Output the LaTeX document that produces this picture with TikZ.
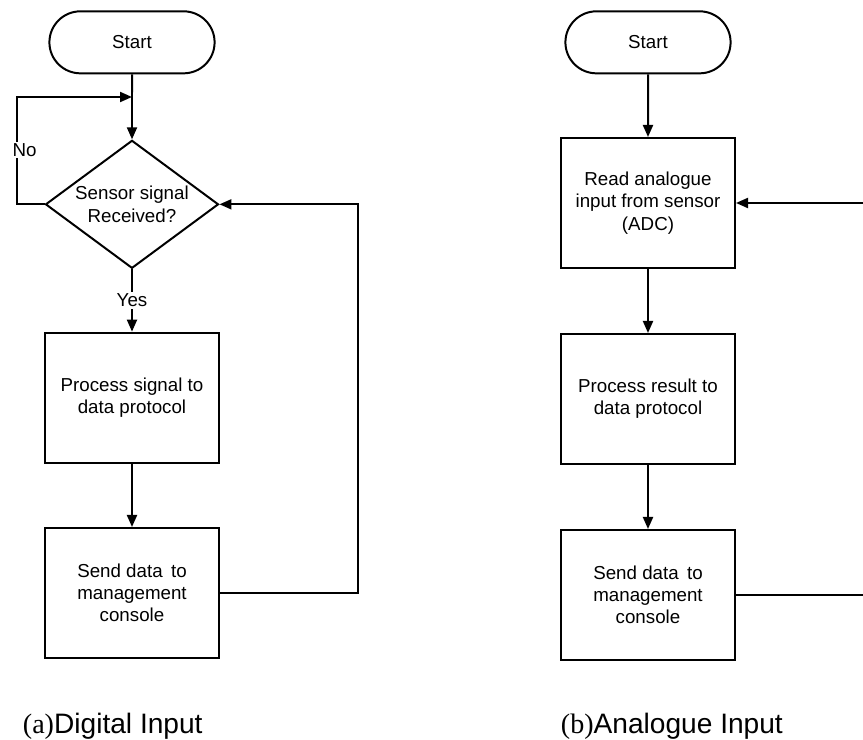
\documentclass[tikz,border=0pt]{standalone}
\usepackage{fontspec}
\setmainfont{Liberation Sans}
\newfontfamily\capserif{Liberation Serif}
\usetikzlibrary{arrows.meta, positioning, shapes.geometric, shapes.misc}

\begin{document}
\begin{tikzpicture}[
    line width=1.7pt,
    termbox/.style={draw, rounded rectangle, minimum width=5.19cm, minimum height=1.86cm, font=\fontsize{16}{19}\selectfont},
    stepbox/.style={draw, minimum width=5.22cm, minimum height=3.9cm, align=center, font=\fontsize{16}{19}\selectfont},
    decbox/.style={draw, diamond, aspect=1.35, inner sep=0pt, minimum width=5.19cm, minimum height=3.84cm, align=center, font=\fontsize{16}{19}\selectfont},
    lbl/.style={font=\fontsize{16}{19}\selectfont, fill=white, inner sep=1.5pt},
    captxt/.style={font=\fontsize{24}{28}\selectfont, anchor=base west},
    arr/.style={-{Triangle[length=3.6mm, width=3mm]}}
]
    \useasboundingbox (0,0) rectangle (25.89,-22.2);

    % (a) digital input
    \node[termbox] (start1) at (3.96,-1.27) {Start};
    \node[decbox, below=1.95cm of start1] (dia) {Sensor signal\\Received?};
    \node[stepbox, below=1.87cm of dia] (proc1) {Process signal to\\data protocol};
    \node[stepbox, below=1.9cm of proc1] (send1) {Send data\, to\\management\\console};

    \coordinate (nocorner) at (0.51,-2.91);
    \coordinate (backright) at (10.74,-2.91);

    \draw[arr] (start1) -- (dia);
    \draw[arr] (dia.west) -- (dia.west -| nocorner) -- (nocorner) -- (nocorner -| start1.south);
    \node[lbl] (no) at (0.74,-4.5) {No};
    \draw[arr] (dia) -- node[lbl] (yes) {Yes} (proc1);
    \draw[arr] (proc1) -- (send1);
    \draw[arr] (send1.east) -| (dia.east -| backright) -- (dia.east);

    % (b) analogue input
    \node[termbox] (start2) at (19.44,-1.27) {Start};
    \node[stepbox, below=1.88cm of start2] (read) {Read analogue\\input from sensor\\(ADC)};
    \node[stepbox, below=1.92cm of read] (proc2) {Process result to\\data protocol};
    \node[stepbox, below=1.92cm of proc2] (send2) {Send data\, to\\management\\console};

    \coordinate (edge) at (25.89,-2.91);

    \draw[arr] (start2) -- (read);
    \draw[arr] (read) -- (proc2);
    \draw[arr] (proc2) -- (send2);
    \draw (send2.east) -- (send2.east -| edge);
    \draw[arr] (read.east -| edge) -- (read.east);

    % captions
    \node[captxt] (capa) at (0.54,-21.99) {{\capserif (a)}Digital Input};
    \node[captxt] (capb) at (16.68,-21.99) {{\capserif (b)}Analogue Input};
\end{tikzpicture}
\end{document}
